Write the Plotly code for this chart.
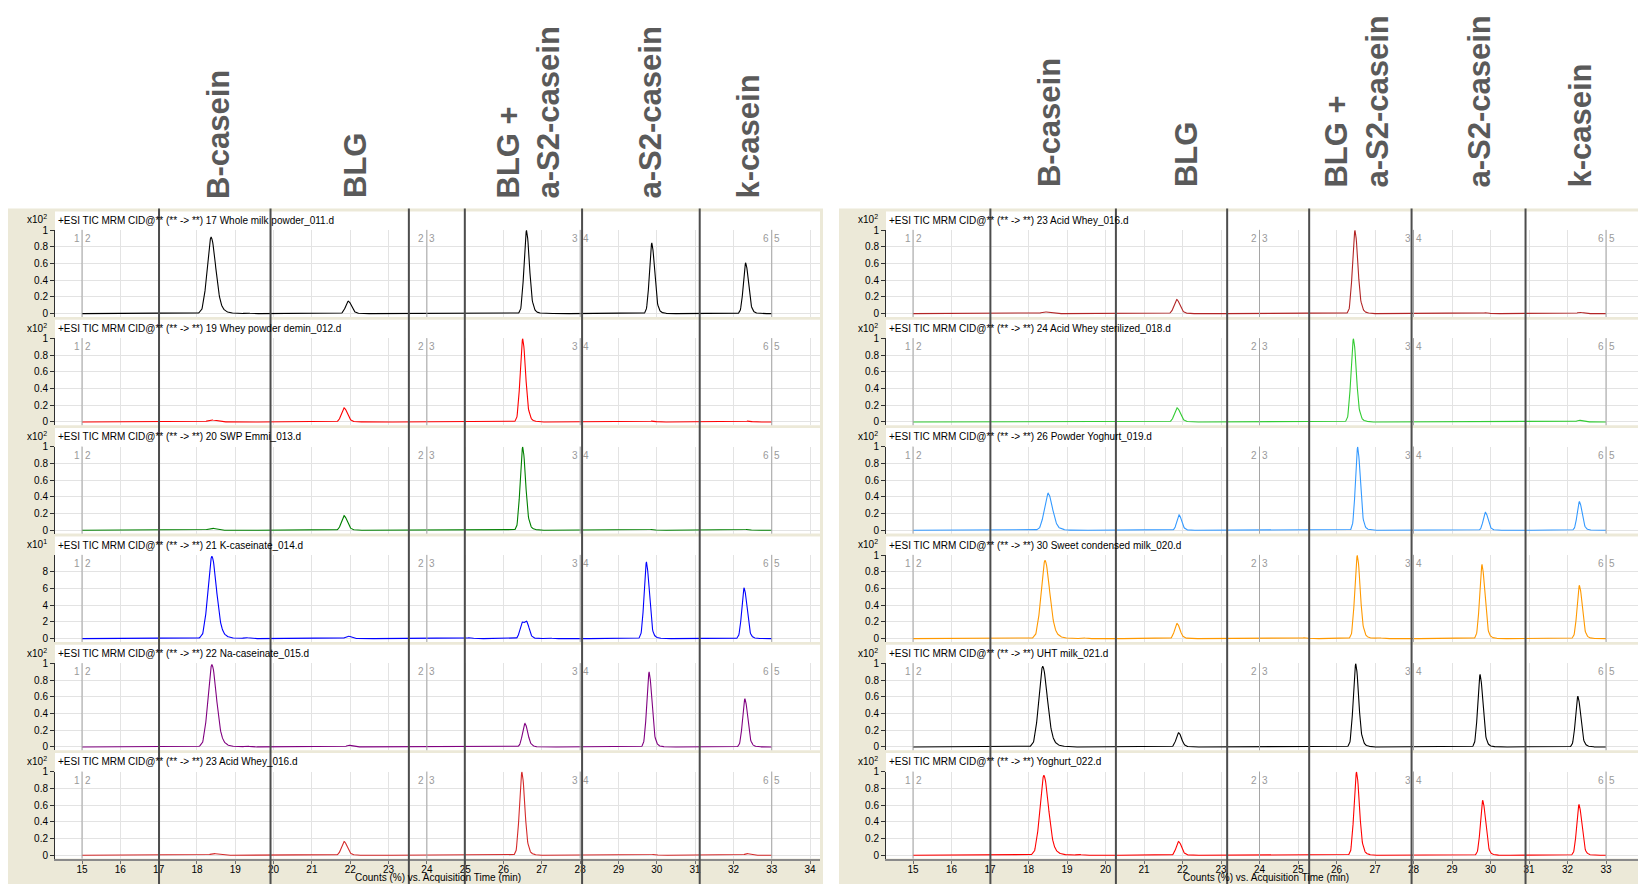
import numpy as np
import plotly.graph_objects as go

W, H = 1646, 886          # browser window
BODY = 8                  # default page margin around the plot div
FW, FH = W - BODY, H - BODY   # figure size so that the figure ends at the window edge

# ---------------- data ----------------
protein_labels = ["B-casein", "BLG", "BLG +<br>a-S2-casein", "a-S2-casein", "k-casein"]

time_tick_start = 15
segment_bounds = [15, 24, 28, 33]
segment_left = ["1", "2", "3", "6"]
segment_right = ["2", "3", "4", "5"]

# hand-drawn marker lines (retention time, min)
left_marker_times = [17.01, 19.92, 23.53, 24.99, 28.05, 31.12]
right_marker_times = [17.01, 20.27, 23.16, 25.29, 27.95, 30.91]

# peak shape (offset in min, relative height)
peak_offsets = [-0.28, -0.20, -0.15, -0.11, -0.08, -0.05, -0.02, 0.0, 0.02, 0.05,
                0.08, 0.11, 0.15, 0.19, 0.24, 0.30, 0.38, 0.48]
peak_profile = [0.0, 0.01, 0.06, 0.22, 0.45, 0.75, 0.96, 1.0, 0.96, 0.80,
                0.56, 0.34, 0.16, 0.07, 0.03, 0.012, 0.005, 0.0]

left_samples = ["17 Whole milk powder_011.d", "19 Whey powder demin_012.d", "20 SWP Emmi_013.d",
                "21 K-caseinate_014.d", "22 Na-caseinate_015.d", "23 Acid Whey_016.d"]
right_samples = ["23 Acid Whey_016.d", "24 Acid Whey sterilized_018.d", "26 Powder Yoghurt_019.d",
                 "30 Sweet condensed milk_020.d", "UHT milk_021.d", "Yoghurt_022.d"]
left_colors = ["#000000", "#FF0000", "#008000", "#0000FF", "#800080", "#D42A2A"]
right_colors = ["#B22626", "#33CC33", "#3399FF", "#FF9900", "#000000", "#FF0000"]
left_exponents = [2, 2, 2, 1, 2, 2]
right_exponents = [2, 2, 2, 2, 2, 2]

# peaks: (retention time min, height in axis units, width factor)
whole_milk_powder_011 = [(18.37, 0.92, 1.6), (19.30, 0.008, 1.0), (21.95, 0.15, 1.1), (25.10, 0.005, 1.0),
                         (26.60, 1.0, 1.0), (27.15, 0.005, 1.0), (29.87, 0.85, 0.95), (32.32, 0.61, 0.95)]
whey_powder_demin_012 = [(18.38, 0.025, 1.5), (21.84, 0.17, 1.1), (26.50, 1.0, 1.0),
                         (29.88, 0.01, 1.0), (32.38, 0.01, 1.0)]
swp_emmi_013 = [(18.39, 0.025, 1.5), (21.84, 0.175, 1.1), (26.50, 1.0, 1.0),
                (29.87, 0.01, 1.0), (32.36, 0.01, 1.0)]
k_caseinate_014 = [(18.39, 9.9, 1.6), (19.28, 0.12, 1.0), (21.94, 0.3, 1.0), (25.11, 0.1, 1.0),
                   (26.48, 1.85, 0.85), (26.61, 1.75, 0.85), (27.16, 0.1, 1.0),
                   (29.73, 9.2, 0.95), (32.28, 6.1, 0.95)]
na_caseinate_015 = [(18.39, 0.99, 1.6), (19.30, 0.01, 1.0), (21.97, 0.02, 1.0), (26.56, 0.28, 1.0),
                    (29.80, 0.90, 0.95), (32.30, 0.58, 0.95)]
acid_whey_016 = [(18.45, 0.02, 1.5), (21.84, 0.165, 1.1), (26.48, 1.0, 1.0),
                 (29.92, 0.01, 1.0), (32.36, 0.02, 1.0)]

acid_whey_016_b = [(18.43, 0.02, 1.5), (21.85, 0.17, 1.1), (26.48, 1.0, 1.0),
                   (29.88, 0.01, 1.0), (32.32, 0.015, 1.0)]
acid_whey_sterilized_018 = [(21.86, 0.17, 1.1), (26.44, 1.0, 1.0), (32.31, 0.02, 1.0)]
powder_yoghurt_019 = [(18.51, 0.445, 1.5), (21.91, 0.185, 0.9), (26.55, 1.0, 0.9),
                      (29.87, 0.215, 0.9), (32.31, 0.345, 0.9)]
sweet_condensed_milk_020 = [(18.43, 0.94, 1.6), (19.40, 0.01, 1.0), (21.86, 0.18, 1.0), (25.17, 0.01, 1.0),
                            (26.54, 1.0, 1.0), (27.10, 0.01, 1.0), (29.78, 0.89, 0.95), (32.31, 0.64, 0.95)]
uht_milk_021 = [(18.37, 0.97, 1.6), (21.90, 0.17, 1.0), (25.20, 0.008, 1.0), (26.50, 1.0, 1.0),
                (29.73, 0.87, 0.95), (32.27, 0.61, 0.95)]
yoghurt_022 = [(18.40, 0.96, 1.6), (19.30, 0.01, 1.0), (21.90, 0.165, 1.0), (26.52, 1.0, 1.0),
               (29.80, 0.66, 0.95), (32.30, 0.61, 0.95)]

left_peaks = [whole_milk_powder_011, whey_powder_demin_012, swp_emmi_013,
              k_caseinate_014, na_caseinate_015, acid_whey_016]
right_peaks = [acid_whey_016_b, acid_whey_sterilized_018, powder_yoghurt_019,
               sweet_condensed_milk_020, uht_milk_021, yoghurt_022]

run_start, run_end = 15.0, 33.0

# ---------------- build ----------------
x_grid = np.round(np.arange(int(run_start * 100), int(run_end * 100) + 1) / 100.0, 2)


def chromatogram(peaks):
    y = np.zeros_like(x_grid)
    for c, h, w in peaks:
        y += h * np.interp((x_grid - c) / w, peak_offsets, peak_profile, left=0, right=0)
    return y


def pxx(p):
    return (p - BODY) / FW


def pxy(p):
    return 1 - (p - BODY) / FH


FONT = "Liberation Sans"
BEIGE = "#ECE9D8"
PITCH = 109.2
WHITE_TOP, PLOT_TOP, PLOT_BOT = 208.0, 226.6, 314.4

panels = [
    dict(plot_x0=55, plot_x1=820, t15_px=82, ppm=38.32, frame_x0=8, frame_x1=823,
         label_px=[219, 356, 528, 650, 748], label_bottom=197, exp_x=49,
         samples=left_samples, colors=left_colors, exps=left_exponents,
         peaks=left_peaks, markers=left_marker_times),
    dict(plot_x0=886, plot_x1=1646, t15_px=913, ppm=38.5, frame_x0=839, frame_x1=1646,
         label_px=[1049, 1186, 1357, 1480, 1581], label_bottom=186, exp_x=880,
         samples=right_samples, colors=right_colors, exps=right_exponents,
         peaks=right_peaks, markers=right_marker_times),
]

fig = go.Figure()
layout = dict(width=FW, height=FH, autosize=False, margin=dict(l=0, r=0, t=0, b=0),
              paper_bgcolor="white", plot_bgcolor="rgba(0,0,0,0)", showlegend=False,
              font=dict(family=FONT, size=10, color="black"))
shapes, annotations = [], []

for pi, g in enumerate(panels):
    shapes.append(dict(type="rect", xref="paper", yref="paper", x0=pxx(g["frame_x0"]), x1=pxx(g["frame_x1"]),
                       y0=0, y1=pxy(205), fillcolor=BEIGE, line=dict(width=0), layer="below"))
    r0 = 15 - (g["t15_px"] - g["plot_x0"]) / g["ppm"]
    r1 = 15 + (g["plot_x1"] - g["t15_px"]) / g["ppm"]
    for r in range(6):
        n = pi * 6 + r + 1
        off = r * PITCH
        xs = "x" if n == 1 else f"x{n}"
        ys = "y" if n == 1 else f"y{n}"
        xa = "xaxis" if n == 1 else f"xaxis{n}"
        ya = "yaxis" if n == 1 else f"yaxis{n}"
        ymax = 10 ** (2 - g["exps"][r])
        bottom = r == 5

        shapes.append(dict(type="rect", xref="paper", yref="paper", x0=pxx(g["plot_x0"]), x1=pxx(g["plot_x1"]),
                           y0=pxy(PLOT_BOT + off), y1=pxy(WHITE_TOP + off), fillcolor="white",
                           line=dict(width=0), layer="below"))

        fig.add_trace(go.Scatter(x=x_grid, y=chromatogram(g["peaks"][r]), xaxis=xs, yaxis=ys,
                                 mode="lines", line=dict(color=g["colors"][r], width=1.1),
                                 hoverinfo="skip"))

        layout[xa] = dict(domain=[pxx(g["plot_x0"]), min(1.0, pxx(g["plot_x1"]))], anchor=ys, range=[r0, r1],
                          tick0=time_tick_start, dtick=1, showgrid=True, gridcolor="#E3E3E3", gridwidth=1,
                          zeroline=False, showticklabels=bottom, ticks="outside" if bottom else "",
                          ticklen=3, tickcolor="#707070", showline=bottom, linecolor="#8A8A8A", linewidth=2,
                          ticklabelstandoff=-3,
                          tickfont=dict(family=FONT, size=10, color="black"), fixedrange=True)
        if ymax == 1:
            tv = [0, 0.2, 0.4, 0.6, 0.8, 1]
            tt = ["0", "0.2", "0.4", "0.6", "0.8", "1"]
        else:
            tv = [0, 2, 4, 6, 8]
            tt = ["0", "2", "4", "6", "8"]
        layout[ya] = dict(domain=[pxy(PLOT_BOT + off), pxy(PLOT_TOP + off)], anchor=xs,
                          range=[-0.04 * ymax, 1.005 * ymax], tickvals=tv, ticktext=tt,
                          showgrid=True, gridcolor="#E3E3E3", zeroline=False, showline=True,
                          linecolor="#303030", linewidth=1, ticks="outside", ticklen=4,
                          tickcolor="#303030", tickfont=dict(family=FONT, size=10, color="black"),
                          fixedrange=True)

        # segment boundaries
        for b, lt, rt in zip(segment_bounds, segment_left, segment_right):
            shapes.append(dict(type="line", xref=xs, yref=f"{ys} domain", x0=b, x1=b, y0=0, y1=1,
                               line=dict(color="#A5A5A5", width=1), layer="above"))
            annotations.append(dict(xref=xs, yref=f"{ys} domain", x=b, y=1, xanchor="right", yanchor="top",
                                    text=lt, showarrow=False, xshift=-0.5, yshift=-1,
                                    font=dict(family=FONT, size=10, color="#9A9A9A")))
            annotations.append(dict(xref=xs, yref=f"{ys} domain", x=b, y=1, xanchor="left", yanchor="top",
                                    text=rt, showarrow=False, xshift=0.5, yshift=-1,
                                    font=dict(family=FONT, size=10, color="#9A9A9A")))

        # header text
        annotations.append(dict(xref="paper", yref="paper", x=pxx(g["plot_x0"] + 1), y=pxy(217 + off),
                                xanchor="left", yanchor="middle", showarrow=False,
                                text="+ESI TIC MRM CID@** (** -> **) " + g["samples"][r],
                                font=dict(family=FONT, size=10, color="black")))
        annotations.append(dict(xref="paper", yref="paper", x=pxx(g["exp_x"]), y=pxy(216 + off),
                                xanchor="right", yanchor="middle", showarrow=False,
                                text=f"x10<sup>{g['exps'][r]}</sup>",
                                font=dict(family=FONT, size=10, color="black")))

    # bottom axis title
    annotations.append(dict(xref="paper", yref="paper", x=pxx((g["plot_x0"] + g["plot_x1"]) / 2), y=0,
                            xanchor="center", yanchor="bottom", showarrow=False, borderpad=0,
                            text="Counts (%) vs. Acquisition Time (min)",
                            font=dict(family=FONT, size=10, color="black")))

    # hand-drawn marker lines
    top_x = "x" if pi == 0 else f"x{pi * 6 + 1}"
    for t in g["markers"]:
        shapes.append(dict(type="line", xref=top_x, yref="paper", x0=t, x1=t, y0=0, y1=pxy(205),
                           line=dict(color="#4D4D4D", width=2), layer="above"))

    # protein labels
    for lab, xc in zip(protein_labels, g["label_px"]):
        txt = "<br>".join(f"<b>{part}</b>" for part in lab.split("<br>"))
        annotations.append(dict(xref="paper", yref="paper", x=pxx(xc), y=pxy(g["label_bottom"]),
                                xanchor="center", yanchor="bottom", textangle=-90, align="left",
                                showarrow=False, text=txt,
                                font=dict(family=FONT, size=31, color="#5A5A5A")))

layout["shapes"] = shapes
layout["annotations"] = annotations
fig.update_layout(**layout)
fig.write_html("out.html", config={"displayModeBar": False})
